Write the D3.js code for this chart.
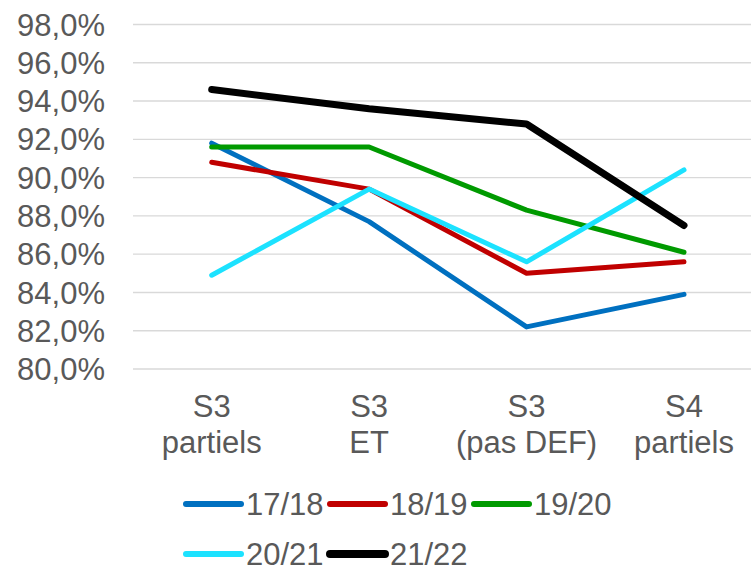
<!DOCTYPE html>
<html>
<head>
<meta charset="utf-8">
<script src="https://cdn.jsdelivr.net/npm/d3@7"></script>
<style>
  body { margin: 0; background: #fff; }
  text { font-family: "Liberation Sans", Arial, sans-serif; fill: #595959; }
</style>
</head>
<body>
<script>
// categories and series
var categories = ["S3 partiels", "S3 ET", "S3 (pas DEF)", "S4 partiels"];
var catLines = [["S3", "partiels"], ["S3", "ET"], ["S3", "(pas DEF)"], ["S4", "partiels"]];
var seriesNames = ["17/18", "18/19", "19/20", "20/21", "21/22"];
var s1718 = [0.918, 0.877, 0.822, 0.839];
var s1819 = [0.908, 0.894, 0.850, 0.856];
var s1920 = [0.916, 0.916, 0.883, 0.861];
var s2021 = [0.849, 0.894, 0.856, 0.904];
var s2122 = [0.946, 0.936, 0.928, 0.875];
var yTicks = [0.80, 0.82, 0.84, 0.86, 0.88, 0.90, 0.92, 0.94, 0.96, 0.98];

var colors = ["#0070C0", "#C00000", "#009A00", "#1CE2FF", "#000000"];
var widths = [5, 5, 5, 5, 7];

var series = [s1718, s1819, s1920, s2021, s2122].map(function(v, i) {
  return { name: seriesNames[i], values: v, color: colors[i], w: widths[i] };
});

var W = 751, H = 566;

var svg = d3.select("body").append("svg")
    .attr("width", W)
    .attr("height", H);

// scales
var y = d3.scaleLinear().domain([0.80, 0.98]).range([369, 24.5]);
var x = d3.scalePoint().domain(categories).range([211.7, 684]);

var fmt = function(d) { return d3.format(".1f")(d * 100).replace(".", ",") + "%"; };

// gridlines
svg.append("g").selectAll("line")
    .data(yTicks)
    .enter().append("line")
    .attr("x1", 133).attr("x2", W)
    .attr("y1", function(d) { return y(d); })
    .attr("y2", function(d) { return y(d); })
    .attr("stroke", "#d9d9d9")
    .attr("stroke-width", 1.4);

// y labels
svg.append("g").selectAll("text")
    .data(yTicks)
    .enter().append("text")
    .attr("x", 105)
    .attr("y", function(d) { return y(d); })
    .attr("dy", "0.36em")
    .attr("text-anchor", "end")
    .style("font-size", "31px")
    .text(fmt);

// category labels, two lines each
var cat = svg.append("g").selectAll("g")
    .data(categories)
    .enter().append("g")
    .attr("transform", function(d) { return "translate(" + x(d) + ",0)"; });

cat.each(function(d, i) {
  var g = d3.select(this);
  catLines[i].forEach(function(t, j) {
    g.append("text")
      .attr("y", 417 + j * 36)
      .attr("text-anchor", "middle")
      .style("font-size", "31px")
      .text(t);
  });
});

// lines
var line = d3.line()
    .x(function(d, i) { return x(categories[i]); })
    .y(function(d) { return y(d); });

svg.append("g").selectAll("path")
    .data(series)
    .enter().append("path")
    .attr("d", function(d) { return line(d.values); })
    .attr("fill", "none")
    .attr("stroke", function(d) { return d.color; })
    .attr("stroke-width", function(d) { return d.w; })
    .attr("stroke-linecap", "round")
    .attr("stroke-linejoin", "round");

// legend
var legend = svg.append("g").selectAll("g")
    .data(series)
    .enter().append("g")
    .attr("transform", function(d, i) {
      return "translate(" + (186 + (i % 3) * 144) + "," + (i < 3 ? 504 : 554) + ")";
    });

legend.append("line")
    .attr("x1", 0).attr("x2", 55)
    .attr("stroke", function(d) { return d.color; })
    .attr("stroke-width", function(d) { return d.w + 1; })
    .attr("stroke-linecap", "round");

legend.append("text")
    .attr("x", 60)
    .attr("y", 10.5)
    .style("font-size", "31px")
    .text(function(d) { return d.name; });
</script>
</body>
</html>
